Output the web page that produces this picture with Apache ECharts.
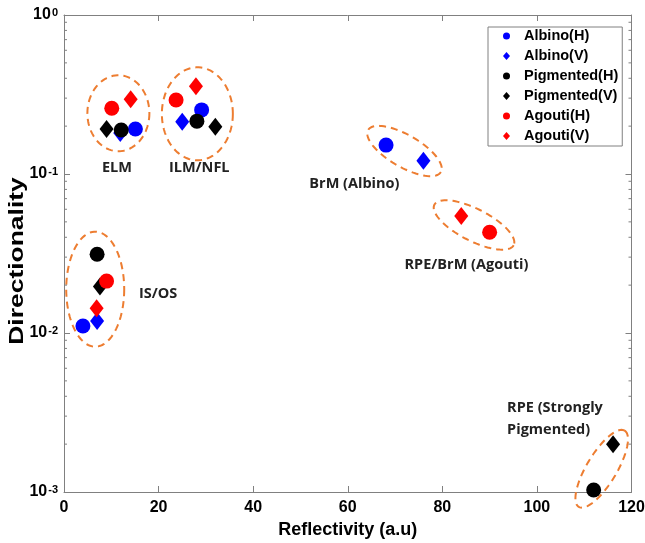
<!DOCTYPE html>
<html><head><meta charset="utf-8">
<script src="https://cdn.jsdelivr.net/npm/echarts@6/dist/echarts.min.js"></script>
<style>html,body{margin:0;padding:0;background:#fff}#c{width:645px;height:543px}</style>
</head><body><div id="c"></div>
<script>
// ---- data ----
const seriesNames = ['Albino(H)','Albino(V)','Pigmented(H)','Pigmented(V)','Agouti(H)','Agouti(V)'];
const albinoH    = [[15.1,0.192],[29.1,0.253],[4.0,0.01107],[68.1,0.152]];
const albinoV    = [[11.9,0.181],[25.0,0.213],[7.0,0.0119],[76.0,0.121]];
const pigmentedH = [[12.1,0.189],[28.1,0.215],[7.0,0.0313],[112.0,0.00103]];
const pigmentedV = [[9.0,0.192],[32.0,0.198],[7.6,0.0196],[116.1,0.00200]];
const agoutiH    = [[10.1,0.259],[23.7,0.292],[9.0,0.0212],[90.0,0.0430]];
const agoutiV    = [[14.1,0.295],[27.9,0.357],[6.9,0.0143],[84.0,0.0544]];
const groupCenters = [[11.5,0.241],[28.2,0.239],[6.6,0.01886],[72.0,0.1395],[86.7,0.0478],[113.7,0.0014]];
const groupLabels  = ['ELM','ILM/NFL','IS/OS','BrM (Albino)','RPE/BrM (Agouti)','RPE (Strongly\nPigmented)'];
const labelAnchors = [[11.2,0.109],[28.6,0.109],[19.9,0.01758],[61.4,0.0865],[85.1,0.0268],[93.7,0.00288]];
const yMinorTicks = [0.002,0.003,0.004,0.005,0.006,0.007,0.008,0.009,
                     0.02,0.03,0.04,0.05,0.06,0.07,0.08,0.09,
                     0.2,0.3,0.4,0.5,0.6,0.7,0.8,0.9];
const xTitle = 'Reflectivity (a.u)';
const yTitle = 'Directionality';

// ---- styles ----
const seriesColors = ['#0000FF','#0000FF','#000000','#000000','#FF0000','#FF0000'];
const seriesSymbols = ['circle','diamond','circle','diamond','circle','diamond'];
const ellipseShapes = [
  {a:31,b:38,rot:0},{a:35.5,b:46.5,rot:0},{a:29,b:57.5,rot:0},
  {a:42,b:16,rot:30},{a:44.5,b:16,rot:27},{a:44.5,b:15,rot:-59}
];
const axisGrey = '#808080';
const tickFont = '"Liberation Sans", Arial, sans-serif';

const chart = echarts.init(document.getElementById('c'), null, {renderer:'canvas'});
const allData = [albinoH, albinoV, pigmentedH, pigmentedV, agoutiH, agoutiV];

const scatterSeries = seriesNames.map((n,i)=>({
  type:'scatter', name:n, data: allData[i], symbol: seriesSymbols[i],
  symbolSize: seriesSymbols[i]==='circle' ? 15 : [14,18],
  itemStyle:{color: seriesColors[i], opacity:1}, z:3, emphasis:{disabled:true}
}));

const option = {
  animation:false,
  backgroundColor:'#fff',
  grid:{left:64, right:13.5, top:15, bottom:51, containLabel:false, outerBoundsMode:'none'},
  xAxis:[{
    type:'value', min:0, max:120, interval:20, position:'bottom',
    axisLine:{show:true, onZero:false, lineStyle:{color:axisGrey, width:1}},
    axisTick:{show:true, inside:true, length:6, lineStyle:{color:axisGrey}},
    axisLabel:{color:'#000', fontWeight:'bold', fontSize:16, fontFamily:tickFont, margin:8},
    splitLine:{show:false},
    name:xTitle, nameLocation:'middle', nameGap:28,
    nameTextStyle:{color:'#000', fontWeight:'bold', fontSize:18, fontFamily:tickFont}
  },{
    type:'value', min:0, max:120, interval:20, position:'top',
    axisLine:{show:true, onZero:false, lineStyle:{color:axisGrey, width:1}},
    axisTick:{show:true, inside:true, length:6, lineStyle:{color:axisGrey}},
    axisLabel:{show:false}, splitLine:{show:false}
  }],
  yAxis:[{
    type:'log', logBase:10, min:0.001, max:1, position:'left',
    axisLine:{show:true, onZero:false, lineStyle:{color:axisGrey, width:1}},
    axisTick:{show:true, inside:true, length:6, lineStyle:{color:axisGrey}},
    axisLabel:{
      margin:6, color:'#000',
      formatter: v => '{n|10}{e|' + Math.round(Math.log10(v)) + '}',
      rich:{
        n:{fontSize:16, fontWeight:'bold', fontFamily:tickFont, color:'#000', lineHeight:16, verticalAlign:'bottom'},
        e:{fontSize:11, fontWeight:'bold', fontFamily:tickFont, color:'#000', lineHeight:11, verticalAlign:'top', padding:[0,0,14,1]}
      }
    },
    splitLine:{show:false}
  },{
    type:'log', logBase:10, min:0.001, max:1, position:'right',
    axisLine:{show:true, onZero:false, lineStyle:{color:axisGrey, width:1}},
    axisTick:{show:true, inside:true, length:6, lineStyle:{color:axisGrey}},
    axisLabel:{show:false}, splitLine:{show:false}
  }],
  legend:{
    orient:'vertical', left:488, top:27, padding:[1,4,2,15], itemGap:4,
    itemWidth:7, itemHeight:8, borderColor:axisGrey, borderWidth:1, backgroundColor:'#fff',
    selectedMode:false,
    textStyle:{fontFamily:tickFont, fontWeight:'bold', fontSize:14.5, color:'#000', lineHeight:16, padding:[0,0,0,9]},
    data: seriesNames.map((n,i)=>({name:n, icon: seriesSymbols[i]}))
  },
  graphic:[{
    type:'text', x:17, y:261, rotation:Math.PI/2, scaleX:1.26,
    style:{text:yTitle, font:'bold 21px "Liberation Sans", Arial, sans-serif', fill:'#000', align:'center', verticalAlign:'middle'}
  }],
  series:[
    {
      type:'custom', name:'ellipses', coordinateSystem:'cartesian2d', clip:false, silent:true, z:1,
      data: groupCenters,
      renderItem(params, api){
        const c = api.coord([api.value(0), api.value(1)]);
        const s = ellipseShapes[params.dataIndex];
        const th = s.rot*Math.PI/180, pts=[];
        for(let i=0;i<=90;i++){
          const t=i/90*2*Math.PI;
          pts.push([c[0]+s.a*Math.cos(t)*Math.cos(th)-s.b*Math.sin(t)*Math.sin(th),
                    c[1]+s.a*Math.cos(t)*Math.sin(th)+s.b*Math.sin(t)*Math.cos(th)]);
        }
        return {type:'polyline', shape:{points:pts}, style:{stroke:'#ED7D31', lineWidth:2, lineDash:[7,5], fill:null}};
      }
    },
    {
      type:'custom', name:'groupLabels', coordinateSystem:'cartesian2d', clip:false, silent:true, z:2,
      data: labelAnchors,
      renderItem(params, api){
        const c = api.coord([api.value(0), api.value(1)]);
        const i = params.dataIndex;
        return {type:'text', x:c[0], y:c[1], style:{text:groupLabels[i], font:'bold 14.5px "Open Sans", sans-serif', fill:'#222',
          align: i===5 ? 'left':'center', verticalAlign:'middle', lineHeight:22}};
      }
    },
    {
      type:'custom', name:'minorTicks', coordinateSystem:'cartesian2d', clip:false, silent:true, z:2,
      data: yMinorTicks.map(v=>[0,v]),
      renderItem(params, api){
        const v = api.value(1);
        const l = api.coord([0, v]), r = api.coord([120, v]);
        return {type:'group', children:[
          {type:'line', shape:{x1:l[0], y1:l[1], x2:l[0]+3, y2:l[1]}, style:{stroke:axisGrey, lineWidth:1}},
          {type:'line', shape:{x1:r[0], y1:r[1], x2:r[0]-3, y2:r[1]}, style:{stroke:axisGrey, lineWidth:1}}
        ]};
      }
    },
    ...scatterSeries
  ]
};
chart.setOption(option);
</script>
</body></html>
